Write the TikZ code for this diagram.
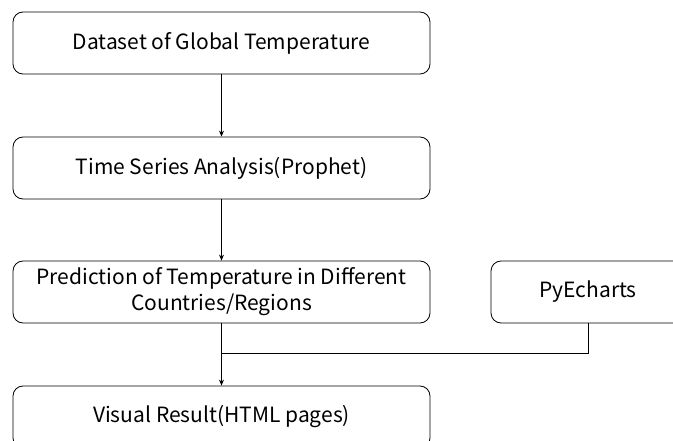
\documentclass[tikz,border=0pt]{standalone}
\usepackage{fontspec}
\setmainfont{Noto Sans CJK SC}
\usetikzlibrary{arrows.meta,positioning}
\begin{document}
\begin{tikzpicture}[x=1pt,y=-1pt,
  flowbox/.style={draw=black,line width=0.8pt,rounded corners=10pt,minimum height=62pt,align=center,inner sep=2pt,font=\fontsize{21}{26}\selectfont},
  conn/.style={draw=black,line width=0.8pt},
  arr/.style={conn,-{Stealth[length=6pt,width=5pt]}}]
\useasboundingbox (0,0) rectangle (673,441);
\clip (0,0) rectangle (673,441);
\node[flowbox,minimum width=417pt] (a) at (221.5,43) {Dataset of Global Temperature};
\node[flowbox,minimum width=417pt] (b) at (221.5,168) {Time Series Analysis(Prophet)};
\node[flowbox,minimum width=417pt] (c) at (221.5,292) {Prediction of Temperature in Different\\Countries/Regions};
\node[flowbox,minimum width=194pt] (p) at (588,292) {PyEcharts};
\node[flowbox,minimum width=417pt] (d) at (221.5,417) {Visual Result(HTML pages)};
\coordinate (j) at (221.5,353);
\draw[arr] (a) -- (b);
\draw[arr] (b) -- (c);
\draw[arr] (c) -- (d);
\draw[conn] (p.south) |- (j);
\end{tikzpicture}
\end{document}
